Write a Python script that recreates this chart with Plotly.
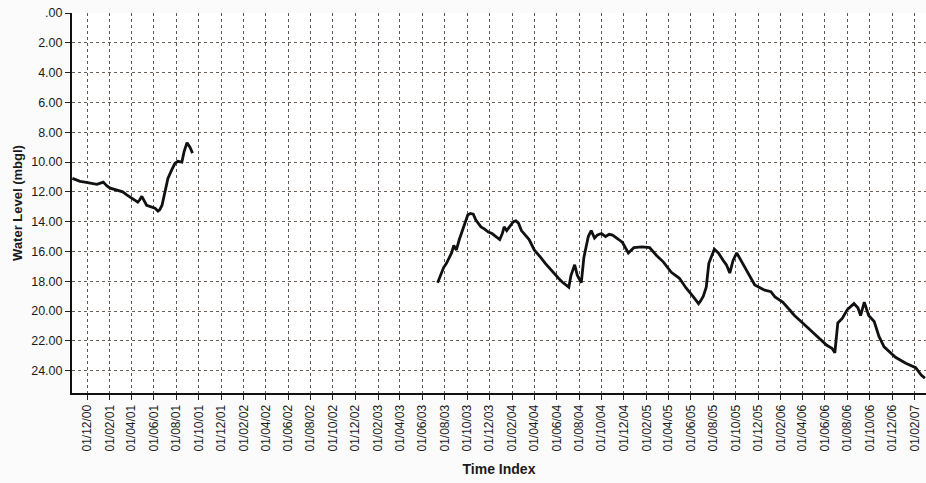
import plotly.graph_objects as go
import pandas as pd

# ---- data ----
dates_a = ["2000-10-22", "2000-11-12", "2000-11-25", "2000-12-09", "2000-12-28", "2001-01-14",
           "2001-01-24", "2001-02-02", "2001-02-24", "2001-03-08", "2001-03-19", "2001-04-06",
           "2001-04-18", "2001-04-23", "2001-04-29", "2001-05-12", "2001-05-24", "2001-06-04",
           "2001-06-12", "2001-06-17", "2001-06-23", "2001-07-03", "2001-07-09", "2001-07-20",
           "2001-07-28", "2001-08-05", "2001-08-16", "2001-08-22", "2001-08-30", "2001-09-07",
           "2001-09-14"]
level_a = [11.1, 11.3, 11.35, 11.4, 11.5, 11.35,
           11.6, 11.75, 11.9, 12.0, 12.2, 12.5,
           12.7, 12.55, 12.3, 12.9, 13.0, 13.1,
           13.3, 13.2, 12.9, 11.9, 11.1, 10.5,
           10.1, 9.95, 10.0, 9.3, 8.7, 9.0,
           9.4]

dates_b = ["2003-07-13", "2003-07-22", "2003-07-29", "2003-08-06", "2003-08-13", "2003-08-20",
           "2003-08-26", "2003-09-02", "2003-09-10", "2003-09-19", "2003-09-26", "2003-10-03",
           "2003-10-10", "2003-10-18", "2003-10-25", "2003-11-01", "2003-11-08", "2003-11-18",
           "2003-11-28", "2003-12-08", "2003-12-20", "2003-12-29", "2004-01-05", "2004-01-10",
           "2004-01-17", "2004-01-25", "2004-02-04", "2004-02-11", "2004-02-18", "2004-02-26",
           "2004-03-08", "2004-03-18", "2004-04-01", "2004-04-10", "2004-04-20", "2004-05-01",
           "2004-05-12", "2004-05-24", "2004-06-06", "2004-06-16", "2004-06-25", "2004-07-04",
           "2004-07-10", "2004-07-15", "2004-07-20", "2004-07-27", "2004-08-07", "2004-08-14",
           "2004-08-22", "2004-08-26", "2004-09-03", "2004-09-12", "2004-09-20", "2004-10-01",
           "2004-10-12", "2004-10-22", "2004-10-31", "2004-11-07", "2004-11-17", "2004-11-27",
           "2004-12-05", "2004-12-13", "2004-12-28", "2005-01-08", "2005-01-19", "2005-02-09",
           "2005-02-27", "2005-03-18", "2005-04-09", "2005-05-01", "2005-05-19", "2005-06-08",
           "2005-06-22", "2005-06-28", "2005-07-05", "2005-07-13", "2005-07-20", "2005-08-04",
           "2005-08-15", "2005-08-28", "2005-09-06", "2005-09-15", "2005-09-24", "2005-10-04",
           "2005-10-18", "2005-11-06", "2005-11-22", "2005-12-19", "2006-01-05", "2006-01-16",
           "2006-02-06", "2006-02-24", "2006-03-10", "2006-03-28", "2006-04-15", "2006-05-03",
           "2006-05-20", "2006-06-06", "2006-06-20", "2006-06-28", "2006-07-06", "2006-07-18",
           "2006-08-01", "2006-08-19", "2006-08-30", "2006-09-06", "2006-09-16", "2006-09-28",
           "2006-10-13", "2006-10-26", "2006-11-09", "2006-12-10", "2007-01-07", "2007-02-03",
           "2007-02-18", "2007-02-28"]
level_b = [18.1, 17.5, 17.1, 16.8, 16.45, 16.1,
           15.6, 15.9, 15.2, 14.6, 14.0, 13.55,
           13.45, 13.5, 13.9, 14.1, 14.35, 14.5,
           14.7, 14.8, 15.0, 15.2, 14.8, 14.35,
           14.6, 14.3, 14.0, 13.95, 14.1, 14.6,
           14.9, 15.2, 15.9, 16.2, 16.45, 16.8,
           17.1, 17.5, 17.8, 18.05, 18.2, 18.4,
           17.6, 17.25, 16.9, 17.6, 18.1, 16.4,
           15.4, 15.0, 14.6, 15.1, 14.9, 14.8,
           15.0, 14.85, 14.9, 15.0, 15.2, 15.4,
           15.8, 16.1, 15.75, 15.7, 15.7, 15.75,
           16.25, 16.7, 17.4, 17.8, 18.45, 19.05,
           19.5, 19.3, 19.0, 18.4, 16.8, 15.85,
           16.1, 16.6, 16.9, 17.45, 16.6, 16.1,
           16.7, 17.6, 18.25, 18.6, 18.7, 19.05,
           19.4, 19.9, 20.3, 20.7, 21.1, 21.5,
           21.9, 22.3, 22.5, 22.8, 20.8, 20.5,
           19.9, 19.5, 19.8, 20.3, 19.4, 20.3,
           20.7, 21.7, 22.4, 23.1, 23.5, 23.8,
           24.3, 24.5]

x_tick_dates = pd.date_range("2000-12-01", "2007-02-01", freq="2MS")
x_tick_labels = [d.strftime("%d/%m/%y") for d in x_tick_dates]
y_tick_values = list(range(0, 25, 2))
y_tick_labels = [".00"] + [f"{v:.2f}" for v in y_tick_values[1:]]

font_family = "Liberation Sans, Arial, sans-serif"
line_style = dict(color="#111111", width=2.8)

fig = go.Figure()
fig.add_trace(go.Scatter(x=dates_a, y=level_a, mode="lines", line=line_style, showlegend=False))
fig.add_trace(go.Scatter(x=dates_b, y=level_b, mode="lines", line=line_style, showlegend=False))

fig.update_layout(
    width=926, height=483,
    margin=dict(l=72, r=0, t=13, b=90),
    paper_bgcolor="#fbfbfb",
    plot_bgcolor="#ffffff",
    font=dict(family=font_family, color="#1a1a1a", size=12),
)
fig.update_xaxes(
    range=["2000-10-21", "2007-03-03"],
    tickvals=list(x_tick_dates), ticktext=x_tick_labels,
    tickangle=-90, tickfont=dict(size=12),
    ticks="outside", ticklen=5, tickcolor="#222222",
    showline=True, linecolor="#111111", linewidth=2,
    showgrid=True, gridcolor="#5f5a56", gridwidth=1, griddash="dot",
    title=dict(text="<b>Time Index</b>", font=dict(size=14), standoff=14),
    zeroline=False,
)
fig.update_yaxes(
    range=[25.5, 0],
    tickvals=y_tick_values, ticktext=y_tick_labels,
    tickfont=dict(size=12.5),
    ticks="outside", ticklen=5, tickcolor="#222222",
    showline=True, linecolor="#111111", linewidth=2,
    showgrid=True, gridcolor="#6a5e56", gridwidth=1, griddash="dot",
    title=dict(text="<b>Water Level (mbgl)</b>", font=dict(size=13), standoff=6),
    zeroline=False,
)

fig.write_html("out.html")
